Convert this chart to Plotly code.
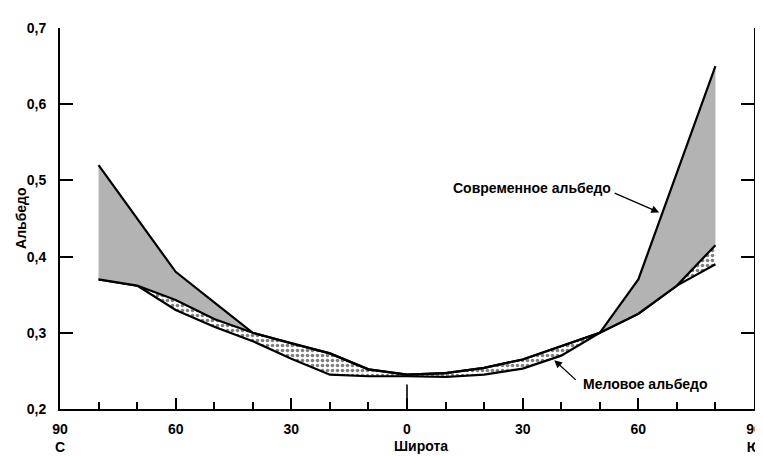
import plotly.graph_objects as go

# Latitude: negative = North (С), positive = South (Ю)
lat = [-80, -70, -60, -50, -40, -30, -20, -10, 0, 10, 20, 30, 40, 50, 60, 70, 80]
modern_upper = [0.52, 0.45, 0.38, 0.34, 0.30, 0.286, 0.273, 0.252, 0.245, 0.247, 0.254, 0.265, 0.282, 0.30, 0.37, 0.51, 0.65]
middle_line = [0.37, 0.362, 0.343, 0.318, 0.30, 0.286, 0.273, 0.252, 0.245, 0.247, 0.254, 0.265, 0.282, 0.30, 0.325, 0.362, 0.415]
lower_line = [0.37, 0.362, 0.33, 0.308, 0.289, 0.266, 0.245, 0.243, 0.243, 0.242, 0.245, 0.253, 0.27, 0.30, 0.325, 0.362, 0.39]

x_tickvals = [-90, -60, -30, 0, 30, 60, 90]
x_ticktext = ["90<br>С", "60", "30", "0", "30", "60", "90<br>Ю"]
y_tickvals = [0.2, 0.3, 0.4, 0.5, 0.6, 0.7]
y_ticktext = ["0,2", "0,3", "0,4", "0,5", "0,6", "0,7"]

FONT = "Liberation Sans, Arial, sans-serif"

def b(s):
    return "<b>" + s.replace("<br>", "</b><br><b>") + "</b>"

fig = go.Figure()
fig.add_trace(go.Scatter(x=lat, y=lower_line, mode="lines",
                         line=dict(color="black", width=2.2), showlegend=False, hoverinfo="skip"))
fig.add_trace(go.Scatter(x=lat, y=middle_line, mode="lines", fill="tonexty",
                         fillcolor="white",
                         fillpattern=dict(shape=".", fgcolor="black", bgcolor="white",
                                          size=5, solidity=0.4),
                         line=dict(color="black", width=2.2), showlegend=False, hoverinfo="skip"))
fig.add_trace(go.Scatter(x=lat, y=modern_upper, mode="lines", fill="tonexty",
                         fillcolor="#b3b3b3",
                         line=dict(color="black", width=2.2), showlegend=False, hoverinfo="skip"))

fig.update_layout(
    width=763, height=456,
    margin=dict(l=52, r=9, t=20, b=47),
    paper_bgcolor="white", plot_bgcolor="white",
    font=dict(family=FONT, size=14, color="black"),
    xaxis=dict(range=[-90, 90], tickvals=x_tickvals, ticktext=[b(t) for t in x_ticktext],
               ticks="inside", ticklen=11, tickwidth=1.6, tickcolor="black",
               minor=dict(ticks="inside", dtick=10, tick0=0, ticklen=7, tickwidth=1.6, tickcolor="black"),
               showline=True, linecolor="black", linewidth=2, showgrid=False, zeroline=False,
               ticklabelstandoff=6, tickfont=dict(size=14)),
    yaxis=dict(range=[0.2, 0.7], tickvals=y_tickvals, ticktext=[b(t) for t in y_ticktext],
               ticks="inside", ticklen=13, tickwidth=1.6, tickcolor="black",
               showline=True, linecolor="black", linewidth=2, mirror="ticks",
               showgrid=False, zeroline=False, ticklabelstandoff=9, tickfont=dict(size=14)),
    shapes=[dict(type="line", xref="x", yref="y", x0=0, x1=0, y0=0.2, y1=0.232,
                 line=dict(color="black", width=1.6))],
    annotations=[
        dict(text=b("Альбедо"), xref="paper", yref="paper", x=-0.057, y=0.5, textangle=-90,
             showarrow=False, font=dict(size=14), xanchor="center", yanchor="middle"),
        dict(text=b("Широта"), xref="paper", yref="paper", x=0.52, y=-0.097,
             showarrow=False, font=dict(size=14), xanchor="center", yanchor="middle"),
        dict(text=b("Современное альбедо"), xref="x", yref="y", x=11.3, y=0.49,
             showarrow=False, xanchor="left", yanchor="middle", font=dict(size=14)),
        dict(text=b("Меловое альбедо"), xref="x", yref="y", x=45.1, y=0.233,
             showarrow=False, xanchor="left", yanchor="middle", font=dict(size=14)),
        dict(text="", xref="x", yref="y", x=65.4, y=0.458, ax=-46, ay=-20,
             showarrow=True, arrowhead=2, arrowsize=1.2, arrowwidth=1.3, arrowcolor="black"),
        dict(text="", xref="x", yref="y", x=38.2, y=0.264, ax=23, ay=21,
             showarrow=True, arrowhead=2, arrowsize=1.2, arrowwidth=1.3, arrowcolor="black"),
    ],
)

fig.write_html("out.html")
